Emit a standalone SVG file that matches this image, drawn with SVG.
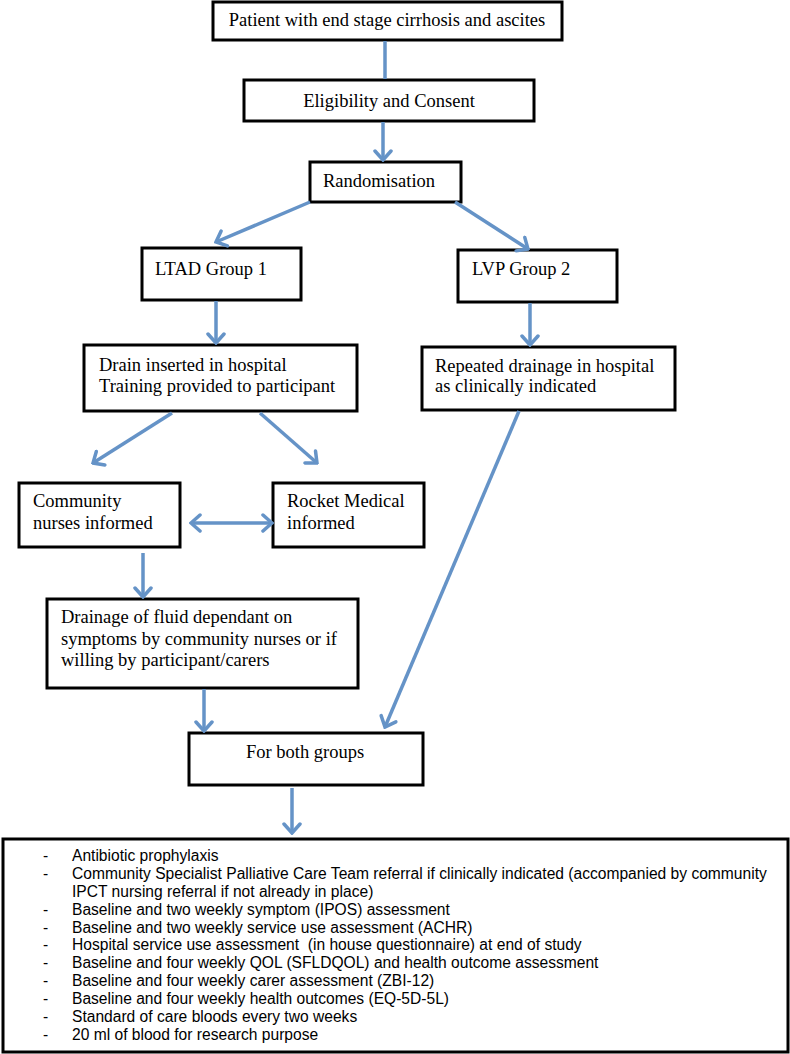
<svg xmlns="http://www.w3.org/2000/svg" width="790" height="1054" viewBox="0 0 790 1054">
<style>
.box{fill:#fff;stroke:#000;stroke-width:3}
.t{font-family:"Liberation Serif","Times New Roman",serif;font-size:18.5px;fill:#000}
.l{font-family:"Liberation Sans",Arial,sans-serif;font-size:15.6px;fill:#000}
.c{stroke:#6593c7;stroke-width:3.5;fill:none}
</style>
<defs>
<marker id="ah" viewBox="-12 -10 14 20" markerWidth="14" markerHeight="20" refX="0" refY="0" orient="auto-start-reverse" markerUnits="userSpaceOnUse">
<path d="M-9,-8 L0,0 L-9,8" fill="none" stroke="#6593c7" stroke-width="3.5" stroke-linecap="round" stroke-linejoin="miter"/>
</marker>
</defs>
<rect width="790" height="1054" fill="#fff"/>
<g id="n1"><rect class="box" x="213" y="2" width="349" height="38"/><text class="t" x="387" y="26" text-anchor="middle">Patient with end stage cirrhosis and ascites</text></g>
<g id="n2"><rect class="box" x="244" y="80" width="290" height="41"/><text class="t" x="389" y="107" text-anchor="middle">Eligibility and Consent</text></g>
<g id="n3"><rect class="box" x="310" y="162" width="151" height="40"/><text class="t" x="323" y="187">Randomisation</text></g>
<g id="n4"><rect class="box" x="142" y="248" width="159" height="52"/><text class="t" x="155" y="275">LTAD Group 1</text></g>
<g id="n5"><rect class="box" x="458" y="250" width="159" height="52"/><text class="t" x="472" y="275">LVP Group 2</text></g>
<g id="n6"><rect class="box" x="84" y="345" width="273" height="66"/><text class="t" x="99" y="371">Drain inserted in hospital</text><text class="t" x="99" y="392">Training provided to participant</text></g>
<g id="n7"><rect class="box" x="422" y="347" width="253" height="63"/><text class="t" x="435" y="372">Repeated drainage in hospital</text><text class="t" x="435" y="392">as clinically indicated</text></g>
<g id="n8"><rect class="box" x="19" y="483" width="161" height="64"/><text class="t" x="33" y="507">Community</text><text class="t" x="33" y="529">nurses informed</text></g>
<g id="n9"><rect class="box" x="273" y="483" width="151" height="64"/><text class="t" x="287" y="507">Rocket Medical</text><text class="t" x="287" y="529">informed</text></g>
<g id="n10"><rect class="box" x="47" y="599" width="311" height="89"/><text class="t" x="61" y="623">Drainage of fluid dependant on</text><text class="t" x="61" y="644.5">symptoms by community nurses or if</text><text class="t" x="61" y="666">willing by participant/carers</text></g>
<g id="n11"><rect class="box" x="189" y="733" width="234" height="52"/><text class="t" x="246" y="758">For both groups</text></g>
<g id="n12"><rect class="box" x="3" y="839" width="785" height="213"/>
<g class="l">
<text x="43" y="861">-</text><text x="72" y="861">Antibiotic prophylaxis</text>
<text x="43" y="879">-</text><text x="72" y="879">Community Specialist Palliative Care Team referral if clinically indicated (accompanied by community</text>
<text x="72" y="897">IPCT nursing referral if not already in place)</text>
<text x="43" y="915">-</text><text x="72" y="915">Baseline and two weekly symptom (IPOS) assessment</text>
<text x="43" y="933">-</text><text x="72" y="933">Baseline and two weekly service use assessment (ACHR)</text>
<text x="43" y="950">-</text><text x="72" y="950" style="white-space:pre">Hospital service use assessment  (in house questionnaire) at end of study</text>
<text x="43" y="968">-</text><text x="72" y="968">Baseline and four weekly QOL (SFLDQOL) and health outcome assessment</text>
<text x="43" y="986">-</text><text x="72" y="986">Baseline and four weekly carer assessment (ZBI-12)</text>
<text x="43" y="1004">-</text><text x="72" y="1004">Baseline and four weekly health outcomes (EQ-5D-5L)</text>
<text x="43" y="1022">-</text><text x="72" y="1022">Standard of care bloods every two weeks</text>
<text x="43" y="1040">-</text><text x="72" y="1040">20 ml of blood for research purpose</text>
</g></g>
<g id="connectors">
<line class="c" x1="385" y1="41" x2="385" y2="79"/>
<line class="c" x1="383" y1="122" x2="383" y2="160" marker-end="url(#ah)"/>
<line class="c" x1="310" y1="202" x2="216" y2="242" marker-end="url(#ah)"/>
<line class="c" x1="455" y1="202" x2="528" y2="249" marker-end="url(#ah)"/>
<line class="c" x1="216" y1="301" x2="216" y2="343" marker-end="url(#ah)"/>
<line class="c" x1="530" y1="303" x2="530" y2="345" marker-end="url(#ah)"/>
<line class="c" x1="172" y1="413" x2="93" y2="463" marker-end="url(#ah)"/>
<line class="c" x1="260" y1="413" x2="317" y2="463" marker-end="url(#ah)"/>
<line class="c" x1="191" y1="523" x2="272" y2="523" marker-start="url(#ah)" marker-end="url(#ah)"/>
<line class="c" x1="143" y1="553" x2="143" y2="597" marker-end="url(#ah)"/>
<line class="c" x1="204" y1="689" x2="204" y2="731" marker-end="url(#ah)"/>
<line class="c" x1="519" y1="411" x2="385" y2="727" marker-end="url(#ah)"/>
<line class="c" x1="292" y1="788" x2="292" y2="833" marker-end="url(#ah)"/>
</g>
</svg>
